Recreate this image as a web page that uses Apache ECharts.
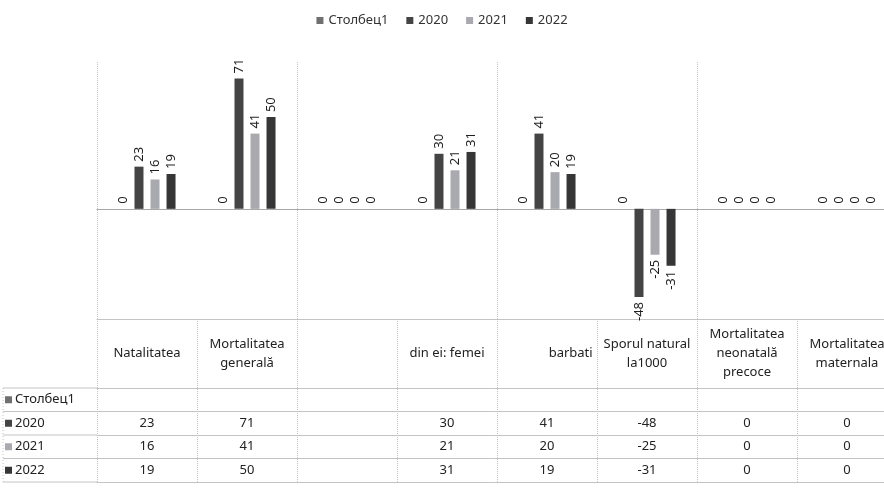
<!DOCTYPE html>
<html><head><meta charset="utf-8">
<script src="https://cdn.jsdelivr.net/npm/echarts@6/dist/echarts.min.js"></script>
<style>html,body{margin:0;padding:0;background:#fff}#c{width:884px;height:494px}</style>
</head><body><div id="c"></div>
<script>
// ---- data ----
const categories = ['Natalitatea', 'Mortalitatea\ngenerală', '', 'din ei: femei', '              barbati',
  'Sporul natural\nla1000', 'Mortalitatea\nneonatală\nprecoce', 'Mortalitatea\nmaternala'];
const seriesNames = ['Столбец1', '2020', '2021', '2022'];
const col1  = [null, null, null, null, null, null, null, null];
const v2020 = [23, 71, null, 30, 41, -48, 0, 0];
const v2021 = [16, 41, null, 21, 20, -25, 0, 0];
const v2022 = [19, 50, null, 31, 19, -31, 0, 0];
const valueMin = -60, valueMax = 80, valueStep = 20;

// ---- style / layout ----
const FONT = '"Noto Sans", "DejaVu Sans", sans-serif';
const colors = ['#707070', '#444444', '#a9a9b0', '#363636'];
const W = 884, H = 494;
const GRID = {left: 97, right: -13, top: 62, bottom: 175};
const HEADER_H = 69, ROW_H = 23.5;
const TABLE_TOP = H - GRID.bottom;
const LINE = '#c4c4c4';

const allValues = [col1, v2020, v2021, v2022];

const series = seriesNames.map((name, s) => ({
  name, type: 'bar', barWidth: 9, barGap: '78%',
  itemStyle: {color: colors[s]},
  label: {show: true, position: 'top', rotate: 90, align: 'left', verticalAlign: 'middle',
    distance: 5, fontSize: 13, color: '#1e1e1e', fontFamily: FONT},
  data: allValues[s].map(v => {
    const val = v == null ? 0 : v;
    return val < 0 ? {value: val, label: {position: 'bottom', align: 'right'}} : val;
  })
}));

const rowAxes = allValues.map((row, k) => ({
  type: 'category', data: categories, position: 'bottom', offset: HEADER_H + k * ROW_H,
  axisLine: {onZero: false, lineStyle: {color: LINE}},
  axisTick: {show: false}, splitLine: {show: false},
  axisLabel: {interval: 0, margin: ROW_H / 2, verticalAlign: 'middle', fontSize: 13,
    color: '#222222', fontFamily: FONT,
    formatter: (v, i) => row[i] == null ? '' : String(row[i])}
}));

const xAxis = [
  {type: 'category', data: categories, position: 'bottom',
    axisLine: {onZero: true, lineStyle: {color: '#a8a8a8'}},
    axisTick: {show: false}, axisLabel: {show: false},
    splitLine: {show: true, lineStyle: {color: LINE, type: 'dotted'}}},
  {type: 'category', data: categories, position: 'bottom', offset: 0,
    axisLine: {onZero: false, lineStyle: {color: LINE}},
    axisTick: {show: true, length: HEADER_H + 4 * ROW_H, lineStyle: {color: LINE, type: 'dotted'}},
    axisLabel: {interval: 0, margin: HEADER_H / 2, verticalAlign: 'middle', lineHeight: 19,
      fontSize: 13, color: '#222222', fontFamily: FONT}},
  ...rowAxes,
  {type: 'category', data: categories, position: 'bottom', offset: HEADER_H + 4 * ROW_H,
    axisLine: {onZero: false, lineStyle: {color: LINE}},
    axisTick: {show: false}, axisLabel: {show: false}}
];

// left column of the data table (legend keys + series names)
const graphic = [];
const tblBottom = TABLE_TOP + HEADER_H + 4 * ROW_H;
graphic.push({type: 'line', shape: {x1: 3, y1: TABLE_TOP + HEADER_H, x2: 3, y2: tblBottom},
  style: {stroke: LINE, lineDash: [1, 2]}});
for (let k = 0; k <= 4; k++) {
  const y = TABLE_TOP + HEADER_H + k * ROW_H;
  graphic.push({type: 'line', shape: {x1: 3, y1: y, x2: GRID.left, y2: y}, style: {stroke: LINE}});
}
seriesNames.forEach((name, k) => {
  const yc = TABLE_TOP + HEADER_H + k * ROW_H + ROW_H / 2;
  graphic.push({type: 'rect', shape: {x: 5, y: yc - 3.5, width: 7, height: 7}, style: {fill: colors[k]}});
  graphic.push({type: 'text', x: 15, y: yc, style: {text: name, fontSize: 13, fill: '#222222',
    fontFamily: FONT, verticalAlign: 'middle', align: 'left'}});
});

const chart = echarts.init(document.getElementById('c'), null, {renderer: 'canvas'});
chart.setOption({
  animation: false,
  backgroundColor: '#ffffff',
  legend: {top: 9, left: 'center', icon: 'rect', itemWidth: 7, itemHeight: 7, itemGap: 18,
    data: seriesNames,
    textStyle: {fontSize: 13, color: '#333333', fontFamily: FONT}},
  grid: Object.assign({containLabel: false, outerBoundsMode: 'none'}, GRID),
  xAxis,
  yAxis: {type: 'value', min: valueMin, max: valueMax, interval: valueStep, show: false,
    splitLine: {show: false}},
  graphic,
  series
});
</script>
</body></html>
